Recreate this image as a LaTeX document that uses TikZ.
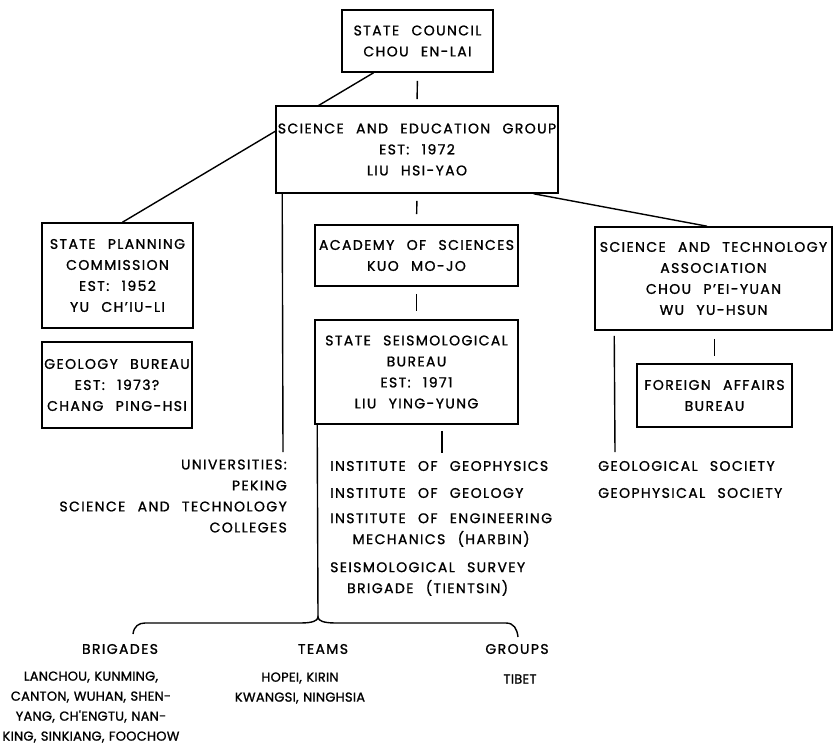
\documentclass[tikz,border=0pt]{standalone}
\usepackage{fontspec}
\setmainfont{Poppins}[WordSpace=2.4,LetterSpace=10,FakeBold=1.2]
\newfontfamily\tightfont{Poppins}[WordSpace=1.2,LetterSpace=2,FakeBold=1.2]
\usepackage{tikz}
\usetikzlibrary{backgrounds}
\tikzstyle{office}=[rectangle,draw=black,line width=1.6pt,fill=white,inner sep=0pt,align=center]
\tikzstyle{entry}=[inner sep=0pt,align=center]
\tikzstyle{place}=[entry,font=\tightfont\fontsize{13}{20}\selectfont]
\tikzstyle{link}=[line width=1.4pt]

\begin{document}
\begin{tikzpicture}[x=1pt,y=-1pt,font=\fontsize{14}{21}\selectfont]
  \useasboundingbox (0,0) rectangle (834,744);

  % boxes
  \node at (417.5,41)  [office,minimum width=151,minimum height=62]  (council) {STATE COUNCIL\\CHOU EN-LAI};
  \node at (417,149.5) [office,minimum width=282,minimum height=87]  (seg) {SCIENCE AND EDUCATION GROUP\\EST: 1972\\LIU HSI-YAO};
  \node at (117.5,275.5) [office,minimum width=151,minimum height=105] (spc) {STATE PLANNING\\COMMISSION\\EST: 1952\\YU CH'IU-LI};
  \node at (117,385)   [office,minimum width=150,minimum height=86]  (geo) {GEOLOGY BUREAU\\EST: 1973?\\CHANG PING-HSI};
  \node at (416.5,255.5) [office,minimum width=203,minimum height=61] (acad) {ACADEMY OF SCIENCES\\KUO MO-JO};
  \node at (416.5,372) [office,minimum width=203,minimum height=104] (ssb) {STATE SEISMOLOGICAL\\BUREAU\\EST: 1971\\LIU YING-YUNG};
  \node at (713.5,278.5) [office,minimum width=237,minimum height=103] (sat) {SCIENCE AND TECHNOLOGY\\ASSOCIATION\\CHOU P'EI-YUAN\\WU YU-HSUN};
  \node at (714.5,395.5) [office,minimum width=155,minimum height=63] (fab) {FOREIGN AFFAIRS\\BUREAU};

  % lists
  \node at (287,496) [entry,anchor=east,align=right] (univ) {UNIVERSITIES:\\PEKING\\SCIENCE AND TECHNOLOGY\\COLLEGES};
  \node at (330,466) [entry,anchor=west] (geoph) {INSTITUTE OF GEOPHYSICS};
  \node at (330,493) [entry,anchor=west] (geol) {INSTITUTE OF GEOLOGY};
  \node at (330,530) [entry,anchor=west] (engmech) {INSTITUTE OF ENGINEERING\\MECHANICS (HARBIN)};
  \node at (330,579) [entry,anchor=west] (survey) {SEISMOLOGICAL SURVEY\\BRIGADE (TIENTSIN)};
  \node at (598,466) [entry,anchor=west] (geolsoc) {GEOLOGICAL SOCIETY};
  \node at (598,493) [entry,anchor=west] (geophsoc) {GEOPHYSICAL SOCIETY};
  \node at (120,649) [entry] (brig) {BRIGADES};
  \node at (91,707)  [place] (briglist) {LANCHOU, KUNMING,\\CANTON, WUHAN, SHEN-\\YANG, CH'ENGTU, NAN-\\KING, SINKIANG, FOOCHOW};
  \node at (323,649) [entry] (teams) {TEAMS};
  \node at (300,688) [place] (teamlist) {HOPEI, KIRIN\\KWANGSI, NINGHSIA};
  \node at (517,649) [entry] (groups) {GROUPS};
  \node at (520,679) [place] (tibet) {TIBET};

  \coordinate (univtop) at (283,452);
  \coordinate (insttop) at (442,453);
  \coordinate (soctop)  at (615,452);
  \coordinate (btip)    at (318,617);
  \coordinate (bleft)   at (133,634);
  \coordinate (bright)  at (518,637);

  \begin{pgfonlayer}{background}
    \draw [link,shorten <=8pt,shorten >=6pt] (council.south) -- (seg.north);
    \draw [link] ([xshift=-44pt]council.south) -- ([xshift=5pt]spc.north);
    \draw [link] ([xshift=7pt]seg.south west) -- (univtop);
    \draw [link,shorten <=7pt,shorten >=10pt] (seg.south) -- (acad.north);
    \draw [link] ([xshift=-25pt]seg.south east) -- ([xshift=-6.5pt]sat.north);
    \draw [link,shorten <=7pt,shorten >=8pt] (acad.south) -- (ssb.north);
    \draw [link,shorten <=6pt] ([xshift=25.5pt]ssb.south) -- (insttop);
    \draw [link] ([xshift=3pt]ssb.south west) -- (btip);
    \draw [link,shorten <=8pt,shorten >=7pt] ([xshift=1pt]sat.south) -- (fab.north);
    \draw [link,shorten <=5pt] ([xshift=20pt]sat.south west) -- (soctop);
    % the brace
    \draw [link] (bleft) .. controls +(1,-8) and +(-6,0) .. (145,623) -- (300,623)
      .. controls +(12,0) and +(0,4) .. (btip)
      .. controls +(0,4) and +(-12,0) .. (336,623) -- (506,623)
      .. controls +(8,0) and +(-1,-8) .. (bright);
  \end{pgfonlayer}
\end{tikzpicture}
\end{document}
